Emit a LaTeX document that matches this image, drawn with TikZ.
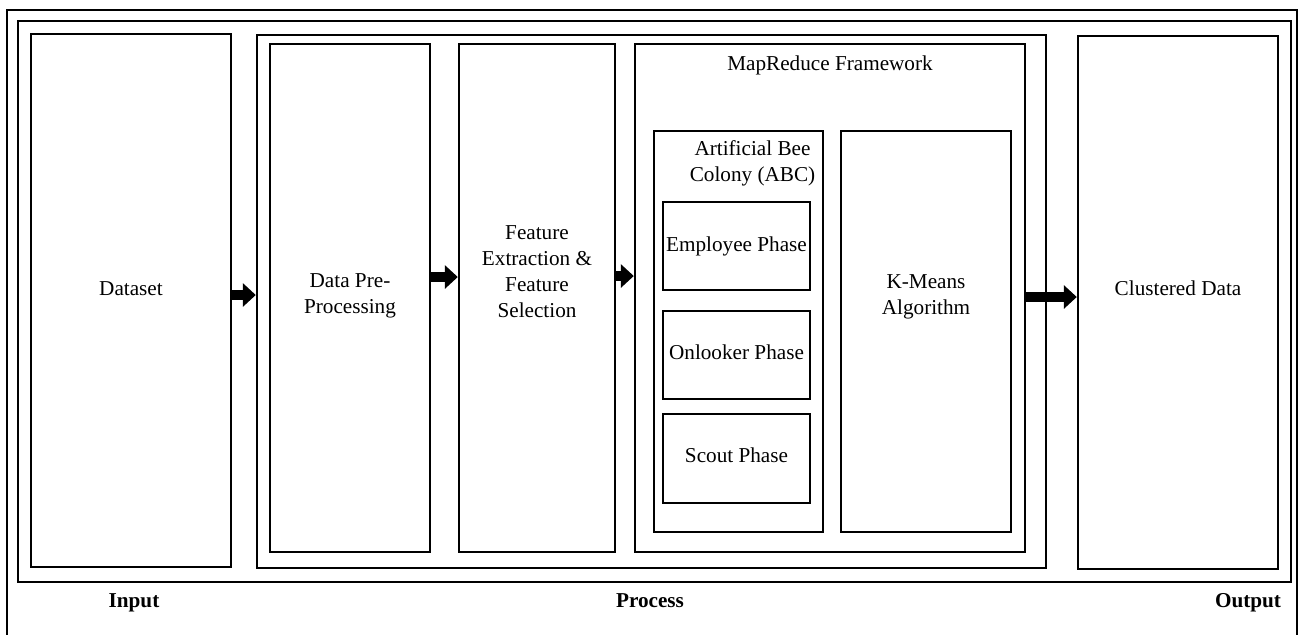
\documentclass[tikz,border=0pt]{standalone}
\usepackage{fontspec}
\setmainfont{Liberation Serif}
\usetikzlibrary{fit,positioning,calc,arrows.meta}

\tikzset{
  box/.style={draw, line width=1.2pt, inner sep=0pt},
  blockarrow/.style={line width=5.2pt, -{Triangle[length=6.5pt,width=11.5pt]}},
  lbl/.style={font=\fontsize{10.6}{13}\selectfont, align=center, inner sep=0pt},
  bottomlbl/.style={font=\fontsize{10.6}{13}\selectfont\bfseries, inner sep=0pt, anchor=base}
}

\begin{document}
\begin{tikzpicture}[x=0.5pt, y=-0.5pt]
    \useasboundingbox (0,0) rectangle (1299,634);

    \node[fit={(7,10) (1297,660)}, box] (outer) {};
    \node[fit={(18,21) (1291,582)}, box] (frame) {};

    % input
    \node[fit={(31,34) (231,567)}, box] (dataset) {};
    \node[lbl] at ([yshift=6pt]dataset.center) {Dataset};

    % process
    \node[fit={(257,35) (1046,568)}, box] (process) {};
    \node[fit={(270,44) (430,552)}, box] (prep) {};
    \node[lbl] at ([yshift=1pt]prep.center) {Data Pre-\\Processing};
    \node[fit={(459,44) (615,552)}, box] (feat) {};
    \node[lbl] at ([yshift=13pt]feat.center) {Feature\\Extraction \&\\Feature\\Selection};

    \node[fit={(635,44) (1025,552)}, box] (mapred) {};
    \node[lbl] at ([yshift=-11.5pt]mapred.north) {MapReduce Framework};
    \node[fit={(654,131) (823,532)}, box] (abc) {};
    \node[lbl] at ([xshift=7pt,yshift=-17pt]abc.north) {Artificial Bee\\Colony (ABC)};
    \node[fit={(663,202) (810,290)}, box] (employee) {};
    \node[lbl] at (employee.center) {Employee Phase};
    \node[fit={(663,311) (810,399)}, box] (onlooker) {};
    \node[lbl] at ([yshift=1.5pt]onlooker.center) {Onlooker Phase};
    \node[fit={(663,414) (810,503)}, box] (scout) {};
    \node[lbl] at ([yshift=1.5pt]scout.center) {Scout Phase};
    \node[fit={(841,131) (1011,532)}, box] (kmeans) {};
    \node[lbl] at ([yshift=17.5pt]kmeans.center) {K-Means\\Algorithm};

    % output
    \node[fit={(1078,36) (1278,569)}, box] (clustered) {};
    \node[lbl] at ([yshift=7pt]clustered.center) {Clustered Data};

    \draw[blockarrow] (dataset.east |- 0,295) -- (process.west |- 0,295);
    \draw[blockarrow] (prep.east |- 0,277) -- (feat.west |- 0,277);
    \draw[blockarrow] (feat.east |- 0,276) -- (mapred.west |- 0,276);
    \draw[blockarrow] (mapred.east |- 0,297) -- (clustered.west |- 0,297);

    \node[bottomlbl] (input) at (134,607) {Input};
    \node[bottomlbl] (proc) at (650,607) {Process};
    \node[bottomlbl] (output) at (1248,607) {Output};
\end{tikzpicture}
\end{document}
